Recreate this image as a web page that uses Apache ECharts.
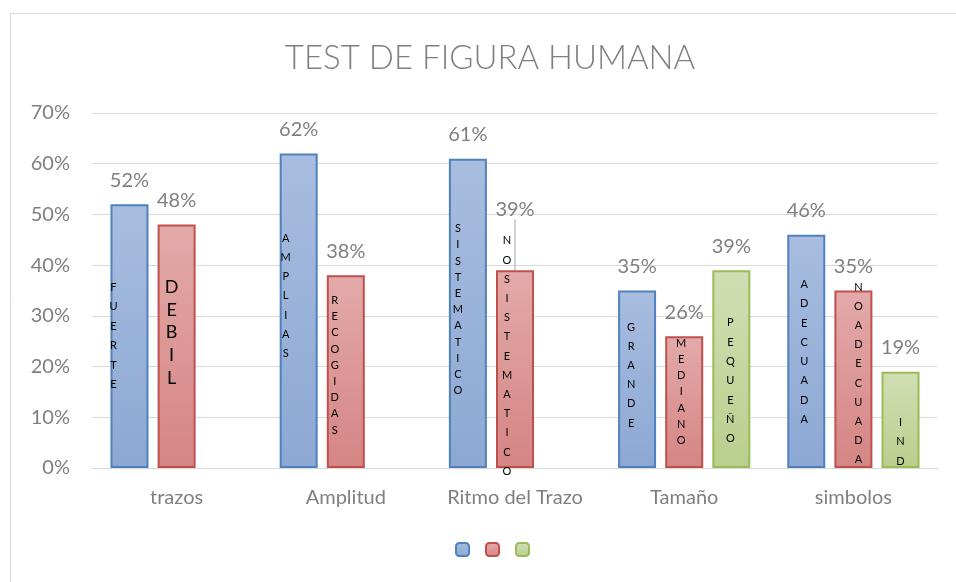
<!DOCTYPE html>
<html>
<head>
<meta charset="utf-8">
<script src="https://cdn.jsdelivr.net/npm/echarts@6/dist/echarts.min.js"></script>
<style>
  html, body { margin: 0; padding: 0; background: #fff; }
  #chart { width: 956px; height: 582px; }
</style>
</head>
<body>
<div id="chart"></div>
<script>
// data
const categories = ['trazos', 'Amplitud', 'Ritmo del Trazo', 'Tamaño', 'simbolos']
const yTicks = [0, 10, 20, 30, 40, 50, 60, 70]
const blueValues = [52, 62, 61, 35, 46]
const redValues = [48, 38, 39, 26, 35]
const greenValues = ['-', '-', '-', 39, 19]
const blueWords = ['FUERTE', 'AMPLIAS', 'SISTEMATICO', 'GRANDE', 'ADECUADA']
const redWords = ['DEBIL', 'RECOGIDAS', 'NOSISTEMATICO', 'MEDIANO', 'NOADECUADA']
const greenWords = ['', '', '', 'PEQUEÑO', 'IND']

// where the vertical words sit inside each bar: [dx, dy, lineHeight, fontSize]
const blueWordStyle = [[-16, 73, 19.5, 11], [-13, 75, 19.2, 11], [-10, 62, 16.2, 11], [-6, 27, 19.2, 11], [-2, 40, 19.3, 11]]
const redWordStyle = [[-5, 51, 22.8, 18], [-11, 17, 16.2, 11], [-8, -39, 19.2, 11], [-3, -1, 16.2, 11], [5, -13, 19.2, 11]]
const greenWordStyle = [[0, 0, 19, 11], [0, 0, 19, 11], [0, 0, 19, 11], [-1, 43, 19.3, 11], [0, 41, 19.5, 11]]

const FONT = 'Lato, "Open Sans", sans-serif'
const chart = echarts.init(document.getElementById('chart'), null, { renderer: 'canvas' })

function grad(top, bottom) {
  return new echarts.graphic.LinearGradient(0, 0, 0, 1, [
    { offset: 0, color: top },
    { offset: 1, color: bottom }
  ])
}

const palettes = [
  { name: 'A', fill: grad('#a8bddf', '#8ca8d3'), border: '#4f81bd', values: blueValues, words: blueWords, style: blueWordStyle },
  { name: 'B', fill: grad('#e3aaa9', '#d58584'), border: '#c0504d', values: redValues, words: redWords, style: redWordStyle },
  { name: 'C', fill: grad('#d0dfb4', '#b9cf8d'), border: '#9bbb59', values: greenValues, words: greenWords, style: greenWordStyle }
]

const barSeries = palettes.map(function (p, si) {
  return {
    name: p.name,
    type: 'bar',
    barWidth: 38,
    barGap: '24%',
    xAxisIndex: 0,
    itemStyle: { color: p.fill, borderColor: p.border, borderWidth: 2 },
    label: {
      show: true,
      position: 'top',
      distance: 14,
      color: '#7f7f7f',
      fontSize: 20,
      fontFamily: FONT,
      formatter: function (pr) { return pr.value + '%' }
    },
    labelLine: { show: false },
    labelLayout: function (pr) {
      // the "39%" of Ritmo del Trazo sits higher, with a leader line
      if (si === 1 && pr.dataIndex === 2) return { dy: -37 }
      return {}
    },
    data: p.values.map(function (v, i) {
      if (si === 1 && i === 2) {
        return { value: v, labelLine: { show: true, lineStyle: { color: '#a6a6a6', width: 1 } } }
      }
      return v
    }),
    emphasis: { disabled: true },
    z: 2
  }
})

const wordSeries = palettes.map(function (p) {
  return {
    name: p.name + '_w',
    type: 'bar',
    barWidth: 38,
    barGap: '24%',
    xAxisIndex: 1,
    silent: true,
    itemStyle: { color: 'rgba(0,0,0,0)' },
    emphasis: { disabled: true },
    z: 5,
    data: p.values.map(function (v, i) {
      const st = p.style[i]
      return {
        value: v,
        label: {
          show: p.words[i] !== '',
          position: 'insideTop',
          distance: 0,
          offset: [st[0], st[1]],
          lineHeight: st[2],
          fontSize: st[3],
          color: '#000',
          fontFamily: FONT,
          formatter: p.words[i].split('').join('\n')
        }
      }
    })
  }
})

const option = {
  animation: false,
  backgroundColor: '#fff',
  textStyle: { fontFamily: FONT },
  graphic: [
    {
      type: 'rect',
      shape: { x: 10.5, y: 13.5, width: 1000, height: 700 },
      style: { fill: 'none', stroke: '#d9d9d9', lineWidth: 1 },
      silent: true
    },
    {
      type: 'text',
      x: 490,
      y: 58,
      style: {
        text: 'TEST DE FIGURA HUMANA',
        fill: '#7f7f7f',
        fontSize: 33,
        fontFamily: FONT,
        fontWeight: 300,
        align: 'center',
        verticalAlign: 'middle'
      },
      silent: true
    }
  ],
  legend: {
    data: ['A', 'B', 'C'],
    bottom: 20,
    left: 450,
    itemWidth: 13,
    itemHeight: 13,
    itemGap: 15,
    formatter: function () { return '' },
    selectedMode: false
  },
  grid: { left: 92, right: 18, top: 113, bottom: 114, containLabel: false },
  xAxis: [
    {
      type: 'category',
      data: categories,
      axisLine: { lineStyle: { color: '#d9d9d9', width: 1 } },
      axisTick: { show: false },
      axisLabel: { color: '#7f7f7f', fontSize: 20, margin: 20, fontFamily: FONT, interval: 0 }
    },
    {
      type: 'category',
      data: categories,
      show: false
    }
  ],
  yAxis: {
    type: 'value',
    min: yTicks[0],
    max: yTicks[yTicks.length - 1],
    interval: yTicks[1] - yTicks[0],
    axisLine: { show: false },
    axisTick: { show: false },
    splitLine: { lineStyle: { color: '#d9d9d9', width: 1 } },
    axisLabel: { color: '#7f7f7f', fontSize: 20, margin: 22, fontFamily: FONT, formatter: '{value}%' }
  },
  series: barSeries.concat(wordSeries)
}

chart.setOption(option)
</script>
</body>
</html>
